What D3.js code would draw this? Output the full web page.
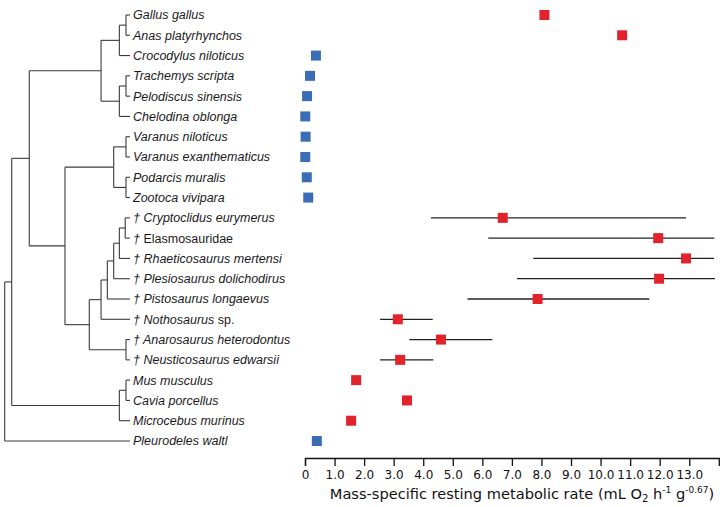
<!DOCTYPE html>
<html>
<head>
<meta charset="utf-8">
<script src="https://cdn.jsdelivr.net/npm/d3@7"></script>
<style>
  html, body { margin: 0; padding: 0; background: #fff; }
  svg { display: block; }
</style>
</head>
<body>
<svg id="chart" width="720" height="507"></svg>
<script>
// ---------- DATA ----------
// species in display order (top to bottom)
const species = [
  "Gallus gallus", "Anas platyrhynchos", "Crocodylus niloticus",
  "Trachemys scripta", "Pelodiscus sinensis", "Chelodina oblonga",
  "Varanus niloticus", "Varanus exanthematicus", "Podarcis muralis", "Zootoca vivipara",
  "Cryptoclidus eurymerus", "Elasmosauridae", "Rhaeticosaurus mertensi",
  "Plesiosaurus dolichodirus", "Pistosaurus longaevus", "Nothosaurus",
  "Anarosaurus heterodontus", "Neusticosaurus edwarsii",
  "Mus musculus", "Cavia porcellus", "Microcebus murinus", "Pleurodeles waltl"
];
const extinct = [false, false, false, false, false, false, false, false, false, false,
  true, true, true, true, true, true, true, true, false, false, false, false];
const italicName = [true, true, true, true, true, true, true, true, true, true,
  true, false, true, true, true, true, true, true, true, true, true, true];
const nameSuffix = ["", "", "", "", "", "", "", "", "", "", "", "", "", "", "", " sp.", "", "", "", "", "", ""];
// mass-specific resting metabolic rate
const rmr = [8.10, 10.73, 0.37, 0.17, 0.07, 0.01, 0.02, 0.01, 0.06, 0.11,
  6.69, 11.95, 12.89, 11.98, 7.87, 3.14, 4.60, 3.22, 1.73, 3.45, 1.56, 0.40];
const rmrLow = [null, null, null, null, null, null, null, null, null, null,
  4.26, 6.20, 7.72, 7.17, 5.50, 2.54, 3.53, 2.54, null, null, null, null];
const rmrHigh = [null, null, null, null, null, null, null, null, null, null,
  12.89, 13.85, 13.84, 13.87, 11.65, 4.32, 6.34, 4.34, null, null, null, null];
// group: "endo" = endotherm (red), "ecto" = ectotherm (blue)
const group = ["endo", "endo", "ecto", "ecto", "ecto", "ecto", "ecto", "ecto", "ecto", "ecto",
  "endo", "endo", "endo", "endo", "endo", "endo", "endo", "endo", "endo", "endo", "endo", "ecto"];
const tickValues = [0,1,2,3,4,5,6,7,8,9,10,11,12,13];
const tickLabels = ["0","1.0","2.0","3.0","4.0","5.0","6.0","7.0","8.0","9.0","10.0","11.0","12.0","13.0"];

// phylogeny: relative node depth (0 = root, 100 = tips)
const tree = {d: 0, children: [
  {d: 5.6, children: [
    {d: 19.6, children: [
      {d: 76.9, children: [
        {d: 91.5, children: [
          {d: 96.8, children: [{name: "Gallus gallus"}, {name: "Anas platyrhynchos"}]},
          {name: "Crocodylus niloticus"}]},
        {d: 91.5, children: [
          {d: 96.8, children: [{name: "Trachemys scripta"}, {name: "Pelodiscus sinensis"}]},
          {name: "Chelodina oblonga"}]}
      ]},
      {d: 48.1, children: [
        {d: 87, children: [
          {d: 96.8, children: [{name: "Varanus niloticus"}, {name: "Varanus exanthematicus"}]},
          {d: 96.8, children: [{name: "Podarcis muralis"}, {name: "Zootoca vivipara"}]}]},
        {d: 67.5, children: [
          {d: 76.9, children: [
            {d: 81.9, children: [
              {d: 87, children: [
                {d: 91.5, children: [
                  {d: 96.2, children: [{name: "Cryptoclidus eurymerus"}, {name: "Elasmosauridae"}]},
                  {name: "Rhaeticosaurus mertensi"}]},
                {name: "Plesiosaurus dolichodirus"}]},
              {name: "Pistosaurus longaevus"}]},
            {name: "Nothosaurus"}]},
          {d: 96.8, children: [{name: "Anarosaurus heterodontus"}, {name: "Neusticosaurus edwarsii"}]}
        ]}
      ]}
    ]},
    {d: 91.5, children: [
      {d: 96.8, children: [{name: "Mus musculus"}, {name: "Cavia porcellus"}]},
      {name: "Microcebus murinus"}]}
  ]},
  {name: "Pleurodeles waltl"}
]};

// ---------- LAYOUT ----------
const svg = d3.select("#chart");
const colors = {endo: "#e3232c", ecto: "#3a6db5"};
const lineColor = "#3a3a3a";

const y = d3.scalePoint().domain(species).range([15, 441]);
const treeX = d3.scaleLinear().domain([0, 100]).range([4.7, 130]);
const x = d3.scaleLinear().domain([0, 14]).range([305, 718.8]);

// ---------- TREE ----------
const root = d3.hierarchy(tree);
root.eachAfter(n => {
  if (!n.children) { n.py = y(n.data.name); n.px = treeX(100); }
  else {
    n.py = (n.children[0].py + n.children[n.children.length - 1].py) / 2;
    n.px = treeX(n.data.d);
  }
});
const tg = svg.append("g").attr("fill", "none").attr("stroke", lineColor).attr("stroke-width", 1.1);
root.each(n => {
  if (n.children) {
    const c0 = n.children[0], c1 = n.children[n.children.length - 1];
    tg.append("line").attr("x1", n.px).attr("x2", n.px).attr("y1", c0.py).attr("y2", c1.py);
    n.children.forEach(c => {
      tg.append("line").attr("x1", n.px).attr("x2", c.px).attr("y1", c.py).attr("y2", c.py);
    });
  }
});

// ---------- LABELS ----------
const lg = svg.append("g")
  .attr("font-family", "'Liberation Sans', Arial, sans-serif")
  .attr("font-size", 12.5).attr("fill", "#1a1a1a");
species.forEach((s, i) => {
  const t = lg.append("text").attr("x", treeX(100) + 3).attr("y", y(s)).attr("dy", "0.35em");
  if (extinct[i]) t.append("tspan").attr("font-style", "italic").text("\u2020 ");
  t.append("tspan").attr("font-style", italicName[i] ? "italic" : "normal").text(s);
  if (nameSuffix[i]) t.append("tspan").attr("font-style", "normal").text(nameSuffix[i]);
});

// ---------- ERROR BARS & MARKERS ----------
const pg = svg.append("g");
species.forEach((s, i) => {
  if (rmrLow[i] != null) {
    pg.append("line")
      .attr("x1", x(rmrLow[i])).attr("x2", x(rmrHigh[i]))
      .attr("y1", y(s)).attr("y2", y(s))
      .attr("stroke", "#222").attr("stroke-width", 1.3);
  }
});
const ms = 10;
species.forEach((s, i) => {
  pg.append("rect")
    .attr("x", x(rmr[i]) - ms / 2).attr("y", y(s) - ms / 2)
    .attr("width", ms).attr("height", ms)
    .attr("fill", colors[group[i]]);
});

// ---------- AXIS ----------
const axis = d3.axisBottom(x)
  .tickValues(tickValues)
  .tickFormat((d, i) => tickLabels[i])
  .tickSize(8).tickSizeOuter(8).tickPadding(4);
const ag = svg.append("g").attr("transform", "translate(0,458)").call(axis);
ag.select(".domain").attr("stroke", "#111").attr("stroke-width", 1.3);
ag.selectAll(".tick line").attr("stroke", "#111").attr("stroke-width", 1.3);
ag.selectAll(".tick text")
  .attr("font-family", "'DejaVu Sans', Verdana, sans-serif")
  .attr("font-size", 12).attr("fill", "#111");

const title = svg.append("text")
  .attr("x", 522).attr("y", 499)
  .attr("text-anchor", "middle")
  .attr("font-family", "'DejaVu Sans', Verdana, sans-serif")
  .attr("font-size", 14.6).attr("fill", "#111");
title.append("tspan").text("Mass-specific resting metabolic rate (mL O");
title.append("tspan").attr("font-size", 10).attr("dy", 3).text("2");
title.append("tspan").attr("dy", -3).text(" h");
title.append("tspan").attr("font-size", 9).attr("dy", -6).text("-1");
title.append("tspan").attr("dy", 6).text(" g");
title.append("tspan").attr("font-size", 9).attr("dy", -6).text("-0.67");
title.append("tspan").attr("dy", 6).text(")");
</script>
</body>
</html>
